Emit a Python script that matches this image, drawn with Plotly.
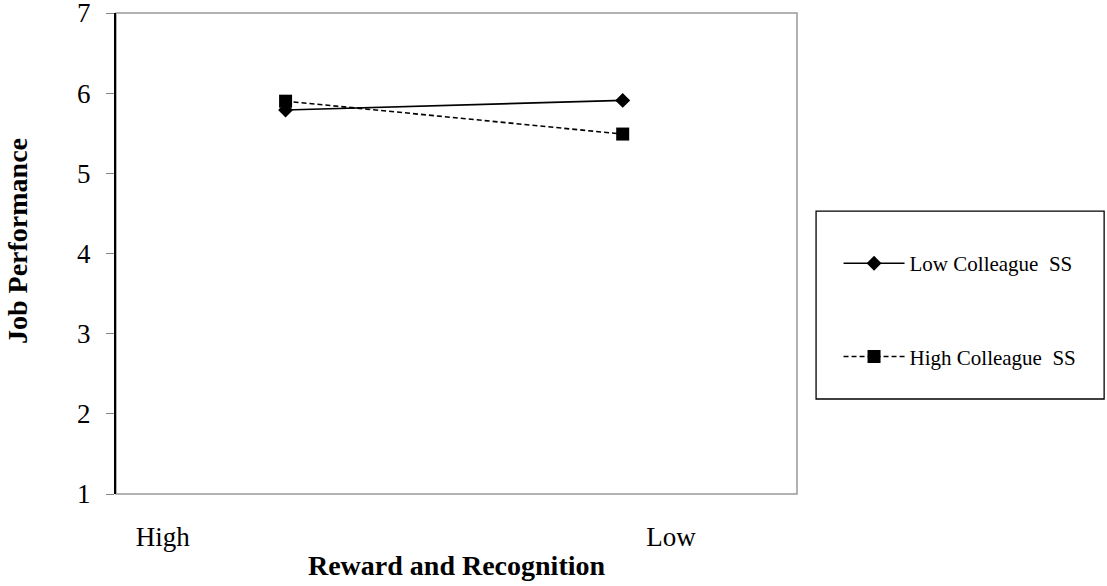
import plotly.graph_objects as go

# ---- data ----
categories = ["High", "Low"]
low_colleague_ss = [5.79, 5.91]
high_colleague_ss = [5.90, 5.49]
series_names = ["Low Colleague\u00a0 SS", "High Colleague\u00a0 SS"]
y_ticks = [1, 2, 3, 4, 5, 6, 7]
x_title = "Reward and Recognition"
y_title = "Job Performance"

x_pos = list(range(len(categories)))
label_pos = [-0.364, 1.143]  # where the category labels sit under the axis

FONT = "Liberation Serif, Times New Roman, serif"

fig = go.Figure()
fig.add_trace(go.Scatter(
    x=x_pos, y=low_colleague_ss, name=series_names[0], mode="lines+markers",
    line=dict(color="black", width=1.6),
    marker=dict(symbol="diamond", size=11.5, color="black"),
    legendgroup="a",
))
fig.add_trace(go.Scatter(
    x=x_pos, y=high_colleague_ss, name=series_names[1], mode="lines+markers",
    line=dict(color="black", width=1.6, dash="5px,3px"),
    marker=dict(symbol="square", size=13, color="black"),
    legendgroup="b",
))

fig.update_layout(
    width=1107, height=586,
    margin=dict(l=116, r=310, t=13, b=92, pad=0, autoexpand=False),
    paper_bgcolor="white", plot_bgcolor="white",
    font=dict(family=FONT, color="black"),
    showlegend=True,
    legend=dict(
        x=1.061, y=0.5216, xanchor="left", yanchor="top",
        font=dict(size=21, family=FONT, color="black"),
        bgcolor="rgba(0,0,0,0)", borderwidth=0,
        itemwidth=61, tracegroupgap=63, traceorder="grouped",
    ),
    xaxis=dict(
        range=[-0.503, 1.517], showgrid=False, zeroline=False,
        showline=False, ticks="", automargin=False,
        tickvals=label_pos, ticktext=categories,
        tickfont=dict(size=27, family=FONT, color="black"),
        ticklabelstandoff=24, ticklabeloverflow="allow",
        title=dict(text=f"<b>{x_title}</b>", font=dict(size=28, family=FONT, color="black"),
                   standoff=4),
    ),
    yaxis=dict(
        range=[1, 7], tickvals=y_ticks, showgrid=False, zeroline=False,
        showline=True, linecolor="black", linewidth=2, automargin=False,
        ticks="outside", ticklen=8, tickcolor="#888888", tickwidth=1,
        tickfont=dict(size=27, family=FONT, color="black"),
        ticklabelstandoff=10, ticklabeloverflow="allow",
    ),
    annotations=[
        dict(text=f"<b>{y_title}</b>", xref="paper", yref="paper",
             x=-0.1439, y=0.526, xanchor="center", yanchor="middle",
             textangle=-90, showarrow=False,
             font=dict(size=28, family=FONT, color="black")),
    ],
    shapes=[
        dict(type="rect", xref="paper", yref="paper", x0=0, x1=1, y0=0, y1=1,
             line=dict(color="#999999", width=1.5), layer="below"),
        dict(type="rect", xref="paper", yref="paper", x0=1.028, x1=1.451,
             y0=0.1975, y1=0.588, line=dict(color="black", width=1.3)),
    ],
)

fig.write_html("out.html", config={"displayModeBar": False},
               post_script="document.body.style.margin='0';")
